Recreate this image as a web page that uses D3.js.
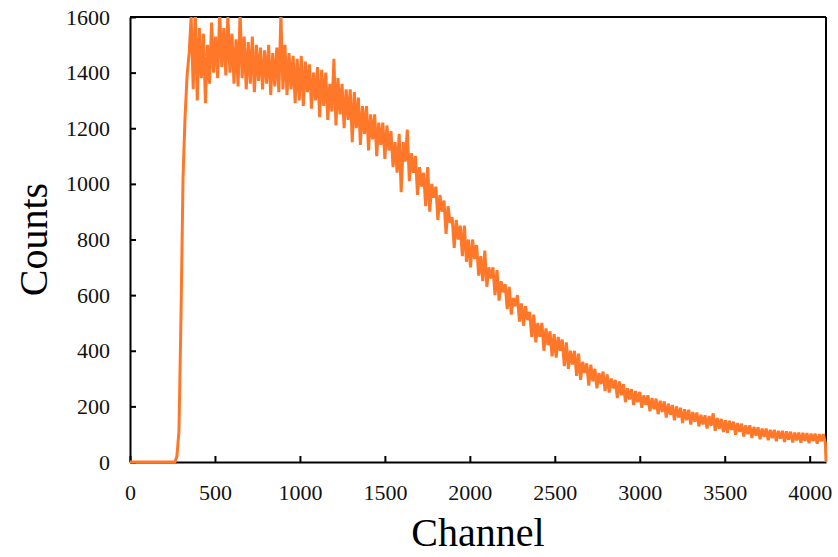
<!DOCTYPE html>
<html>
<head>
<meta charset="utf-8">
<script src="https://cdn.jsdelivr.net/npm/d3@7"></script>
<style>
  html, body { margin: 0; padding: 0; background: #fff; }
  svg { display: block; }
</style>
</head>
<body>
<svg id="chart" width="838" height="557"></svg>
<script>
// ---- data ----
const channelStep = 12;           // channel spacing of the sampled counts
const counts = [
  0,0,0,0,0,0,0,0,0,0,0,0,0,0,0,0,0,0,0,0,0,0,0,
  20,110,520,1020,1240,1390,1470,
  1600,1340,1620,1300,1560,1380,1540,1290,1500,1360,1580,1400,1530,1380,1620,1420,1560,1390,1610,1400,1540,1360,1520,1350,1620,1380,1530,1340,1510,
  1360,1530,1330,1500,1370,1490,1340,1480,1360,1500,1320,1470,1350,1490,1330,1610,1340,1500,1320,1470,1340,1460,1290,1450,1300,
  1460,1280,1440,1330,1430,1270,1400,1300,1420,1240,1410,1280,1400,1230,1360,1260,1450,1210,1380,1250,1360,1200,1340,1230,1340,1150,1330,1200,1310,1140,1280,1180,1280,1120,1250,1160,1250,1100,1220,1140,1220,
  1090,1210,1120,1190,1060,1150,1040,1180,970,1150,1080,1195,1010,1110,1040,1100,960,1060,990,1040,920,1060,900,1000,950,990,870,960,900,940,820,920,860,880,770,870,800,850,740,850,720,800,
  700,800,730,780,670,740,650,760,630,700,660,700,600,690,580,650,610,640,550,630,530,590,560,600,505,570,490,560,510,540,450,530,430,500,450,500,400,480,420,470,380,460,
  375,450,400,440,345,430,335,400,350,400,310,390,295,360,320,355,275,350,290,335,265,320,280,325,255,315,250,300,265,295,230,290,240,280,215,265,225,262,205,255,215,252,
  195,240,205,240,182,230,190,228,172,220,180,218,160,210,170,205,150,200,160,195,140,190,150,188,135,180,145,178,128,170,135,168,120,165,130,175,112,158,120,155,108,
  150,105,148,115,145,98,140,108,138,92,132,100,132,86,126,95,125,82,120,90,120,78,116,86,116,75,112,84,112,72,110,80,109,70,106,78,106,69,105,76,104,68,102,75,102,66,100,74,100,70
];
const endChannel = 4096;          // spectrum ends here, dropping back to zero
const endCount = 0;
const xTicks = [0, 500, 1000, 1500, 2000, 2500, 3000, 3500, 4000];
const yTicks = [0, 200, 400, 600, 800, 1000, 1200, 1400, 1600];
const xTitle = "Channel";
const yTitle = "Counts";

// ---- layout ----
const W = 838, H = 557;
const m = { left: 130, right: 12, top: 17, bottom: 95 };
const pw = W - m.left - m.right, ph = H - m.top - m.bottom;
const fontFam = "'Liberation Serif', 'Times New Roman', serif";
const lineColor = "#ff782a";

const svg = d3.select("#chart");
const g = svg.append("g").attr("transform", `translate(${m.left},${m.top})`);

const x = d3.scaleLinear().domain([0, 4096]).range([0, pw]);
const y = d3.scaleLinear().domain([0, 1600]).range([ph, 0]);

const pts = counts.map((c, i) => [i * channelStep, c]);
pts.push([endChannel, endCount]);

svg.append("defs").append("clipPath").attr("id", "clip")
  .append("rect").attr("x", -2).attr("y", 0).attr("width", pw + 4).attr("height", ph + 3);

// axes with inward ticks
const xAxis = g.append("g").attr("transform", `translate(0,${ph})`)
  .call(d3.axisBottom(x).tickValues(xTicks).tickFormat(d3.format("d"))
    .tickSizeInner(-6).tickSizeOuter(0).tickPadding(22));
const yAxis = g.append("g")
  .call(d3.axisLeft(y).tickValues(yTicks).tickFormat(d3.format("d"))
    .tickSizeInner(-6).tickSizeOuter(0).tickPadding(20));

[xAxis, yAxis].forEach(a => {
  a.selectAll("path.domain").attr("stroke", "#000").attr("stroke-width", 2);
  a.selectAll(".tick line").attr("stroke", "#000").attr("stroke-width", 2);
  a.selectAll(".tick text").attr("font-family", fontFam).attr("font-size", 22).attr("fill", "#111");
});
xAxis.selectAll(".tick text").attr("dy", "0.71em");

// top and right frame lines
g.append("line").attr("x1", 0).attr("x2", pw).attr("y1", 0).attr("y2", 0)
  .attr("stroke", "#000").attr("stroke-width", 2);
g.append("line").attr("x1", pw).attr("x2", pw).attr("y1", 0).attr("y2", ph)
  .attr("stroke", "#000").attr("stroke-width", 2);

// spectrum line (drawn over the axes, as in the reference)
g.append("path")
  .datum(pts)
  .attr("clip-path", "url(#clip)")
  .attr("fill", "none")
  .attr("stroke", lineColor)
  .attr("stroke-width", 3)
  .attr("stroke-linejoin", "miter")
  .attr("stroke-miterlimit", 2)
  .attr("d", d3.line().x(d => x(d[0])).y(d => y(d[1])));

// titles
svg.append("text")
  .attr("x", m.left + pw / 2 - 0).attr("y", 546)
  .attr("text-anchor", "middle")
  .attr("font-family", fontFam).attr("font-size", 40).attr("fill", "#000")
  .text(xTitle);
svg.append("text")
  .attr("transform", `translate(47,${m.top + ph / 2}) rotate(-90)`)
  .attr("text-anchor", "middle")
  .attr("font-family", fontFam).attr("font-size", 40).attr("fill", "#000")
  .text(yTitle);
</script>
</body>
</html>
